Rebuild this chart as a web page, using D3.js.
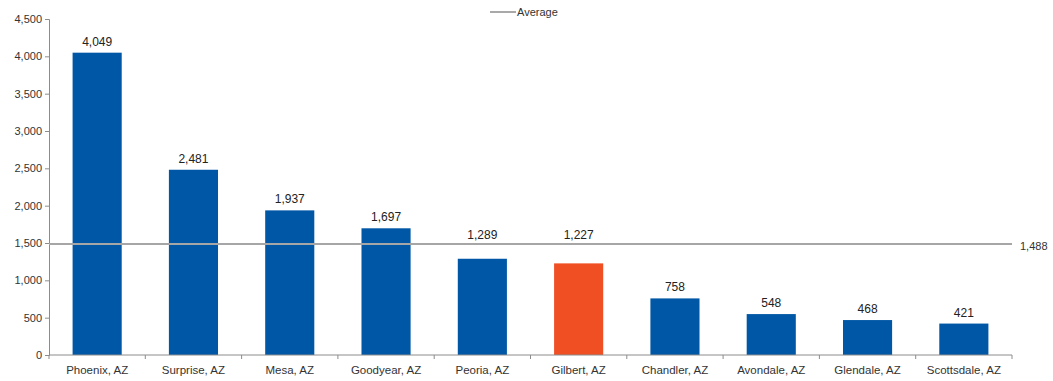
<!DOCTYPE html>
<html>
<head>
<meta charset="utf-8">
<script src="https://cdn.jsdelivr.net/npm/d3@7"></script>
<style>
  html, body { margin: 0; padding: 0; background: #fff; }
  svg { display: block; font-family: "Liberation Sans", Arial, sans-serif; }
</style>
</head>
<body>
<svg id="chart" width="1053" height="381"></svg>
<script>
// City values
const cities = ["Phoenix, AZ", "Surprise, AZ", "Mesa, AZ", "Goodyear, AZ", "Peoria, AZ",
                "Gilbert, AZ", "Chandler, AZ", "Avondale, AZ", "Glendale, AZ", "Scottsdale, AZ"];
const values = [4049, 2481, 1937, 1697, 1289, 1227, 758, 548, 468, 421];
const highlight = "Gilbert, AZ";
const average = 1488;
const yTicks = [0, 500, 1000, 1500, 2000, 2500, 3000, 3500, 4000, 4500];

const svg = d3.select("#chart");
const plotLeft = 49, plotRight = 1012, plotTop = 19, plotBottom = 355;

const x = d3.scaleBand().domain(cities).range([plotLeft, plotRight]).paddingInner(0.49).paddingOuter(0.245);
const y = d3.scaleLinear().domain([0, 4500]).range([plotBottom, plotTop]);
const fmt = d3.format(",");
const rows = cities.map((c, i) => ({ c, v: values[i] }));

// Y axis
const yAxis = svg.append("g")
  .attr("transform", `translate(${plotLeft},0)`)
  .call(d3.axisLeft(y).tickValues(yTicks).tickFormat(fmt).tickSizeOuter(0).tickSize(4).tickPadding(3));
yAxis.select(".domain").attr("stroke", "#8c8c8c");
yAxis.selectAll(".tick line").attr("stroke", "#8c8c8c");
yAxis.selectAll(".tick text").attr("fill", "#333").style("font-size", "11px");

// Bars
svg.append("g").selectAll("rect")
  .data(rows)
  .join("rect")
  .attr("x", d => x(d.c))
  .attr("width", x.bandwidth())
  .attr("y", d => y(d.v))
  .attr("height", d => y(0) - y(d.v))
  .attr("fill", d => d.c === highlight ? "#f04e23" : "#0057a5");

// Value labels; a label that would sit on or just under the average line is lifted above it
const avgY = y(average);
function labelBaseline(v) {
  const base = y(v) - 7;
  const topOfText = base - 12;
  if (base + 2 > avgY && topOfText < avgY + 6) return avgY - 5;
  return base;
}
svg.append("g").selectAll("text")
  .data(rows)
  .join("text")
  .attr("x", d => x(d.c) + x.bandwidth() / 2)
  .attr("y", d => labelBaseline(d.v))
  .attr("text-anchor", "middle")
  .attr("fill", "#222")
  .style("font-size", "12px")
  .text(d => fmt(d.v));

// X axis with ticks at category boundaries
const xg = svg.append("g").attr("transform", `translate(0,${plotBottom})`);
xg.append("line").attr("x1", plotLeft).attr("x2", plotRight).attr("stroke", "#8c8c8c");
const bounds = d3.range(cities.length + 1).map(i => plotLeft + i * x.step());
xg.selectAll("line.tk").data(bounds).join("line")
  .attr("class", "tk")
  .attr("x1", d => d).attr("x2", d => d)
  .attr("y1", 0).attr("y2", 4)
  .attr("stroke", "#8c8c8c");
xg.selectAll("text").data(cities).join("text")
  .attr("x", d => x(d) + x.bandwidth() / 2)
  .attr("y", 19)
  .attr("text-anchor", "middle")
  .attr("fill", "#333")
  .style("font-size", "11.5px")
  .text(d => d);

// Average line
svg.append("line")
  .attr("x1", plotLeft).attr("x2", plotRight)
  .attr("y1", avgY).attr("y2", avgY)
  .attr("stroke", "#a6a6a6").attr("stroke-width", 2);
svg.append("text")
  .attr("x", 1020).attr("y", avgY + 6)
  .attr("fill", "#333")
  .style("font-size", "11px")
  .text(fmt(average));

// Legend
const lg = svg.append("g");
lg.append("line").attr("x1", 490).attr("x2", 516).attr("y1", 12).attr("y2", 12)
  .attr("stroke", "#8c8c8c").attr("stroke-width", 1.5);
lg.append("text").attr("x", 517).attr("y", 16)
  .attr("fill", "#333").style("font-size", "11px").text("Average");
</script>
</body>
</html>
